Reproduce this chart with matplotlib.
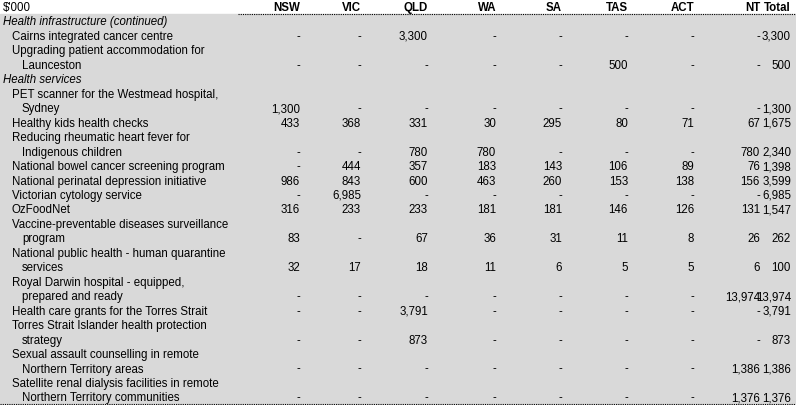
import matplotlib
matplotlib.use("Agg")
import matplotlib.pyplot as plt

columns = ["NSW", "VIC", "QLD", "WA", "SA", "TAS", "ACT", "NT", "Total"]
labels = [
    (["Health infrastructure (continued)"], True),
    (["Cairns integrated cancer centre"], False),
    (["Upgrading patient accommodation for", "Launceston"], False),
    (["Health services"], True),
    (["PET scanner for the Westmead hospital,", "Sydney"], False),
    (["Healthy kids health checks"], False),
    (["Reducing rheumatic heart fever for", "Indigenous children"], False),
    (["National bowel cancer screening program"], False),
    (["National perinatal depression initiative"], False),
    (["Victorian cytology service"], False),
    (["OzFoodNet"], False),
    (["Vaccine-preventable diseases surveillance", "program"], False),
    (["National public health - human quarantine", "services"], False),
    (["Royal Darwin hospital - equipped,", "prepared and ready"], False),
    (["Health care grants for the Torres Strait"], False),
    (["Torres Strait Islander health protection", "strategy"], False),
    (["Sexual assault counselling in remote", "Northern Territory areas"], False),
    (["Satellite renal dialysis facilities in remote", "Northern Territory communities"], False),
]
values = [
    None,
    ["-", "-", "3,300", "-", "-", "-", "-", "-", "3,300"],
    ["-", "-", "-", "-", "-", "500", "-", "-", "500"],
    None,
    ["1,300", "-", "-", "-", "-", "-", "-", "-", "1,300"],
    ["433", "368", "331", "30", "295", "80", "71", "67", "1,675"],
    ["-", "-", "780", "780", "-", "-", "-", "780", "2,340"],
    ["-", "444", "357", "183", "143", "106", "89", "76", "1,398"],
    ["986", "843", "600", "463", "260", "153", "138", "156", "3,599"],
    ["-", "6,985", "-", "-", "-", "-", "-", "-", "6,985"],
    ["316", "233", "233", "181", "181", "146", "126", "131", "1,547"],
    ["83", "-", "67", "36", "31", "11", "8", "26", "262"],
    ["32", "17", "18", "11", "6", "5", "5", "6", "100"],
    ["-", "-", "-", "-", "-", "-", "-", "13,974", "13,974"],
    ["-", "-", "3,791", "-", "-", "-", "-", "-", "3,791"],
    ["-", "-", "873", "-", "-", "-", "-", "-", "873"],
    ["-", "-", "-", "-", "-", "-", "-", "1,386", "1,386"],
    ["-", "-", "-", "-", "-", "-", "-", "1,376", "1,376"],
]

W, H = 796, 405
col_right = [300, 361, 428, 496, 562, 628, 694, 760, 791]
lh = H / 28.0
fs = 8.3

plt.rcParams['font.family'] = ['Liberation Sans', 'DejaVu Sans']
fig = plt.figure(figsize=(W / 100, H / 100), dpi=100)
ax = fig.add_axes([0, 0, 1, 1])
ax.set_xlim(0, W)
ax.set_ylim(H, 0)
ax.axis("off")

ax.add_patch(plt.Rectangle((0, lh), W, H - lh, color="#d9d9d9", zorder=0))
ax.plot([238, W], [lh, lh], color="black", lw=0.8, ls=(0, (1, 1)))
ax.plot([0, W], [H - 1, H - 1], color="black", lw=0.8, ls=(0, (1, 1)))

def yc(i):
    return (i + 0.55) * lh

ax.text(3, yc(0), "\\$'000", fontsize=fs, va="center", ha="left")
for c, x in zip(columns, col_right):
    ax.text(x, yc(0), c, fontsize=fs, va="center", ha="right", fontweight="bold")

line = 1
for (lines, section), vals in zip(labels, values):
    for k, t in enumerate(lines):
        x = 3 if section else (12 if k == 0 else 22)
        ax.text(x, yc(line), t, fontsize=fs, va="center", ha="left",
                style="italic" if section else "normal")
        if vals is not None and k == len(lines) - 1:
            for v, xr in zip(vals, col_right):
                ax.text(xr, yc(line), v, fontsize=fs, va="center", ha="right")
        line += 1

fig.savefig("out.png", dpi=100)
